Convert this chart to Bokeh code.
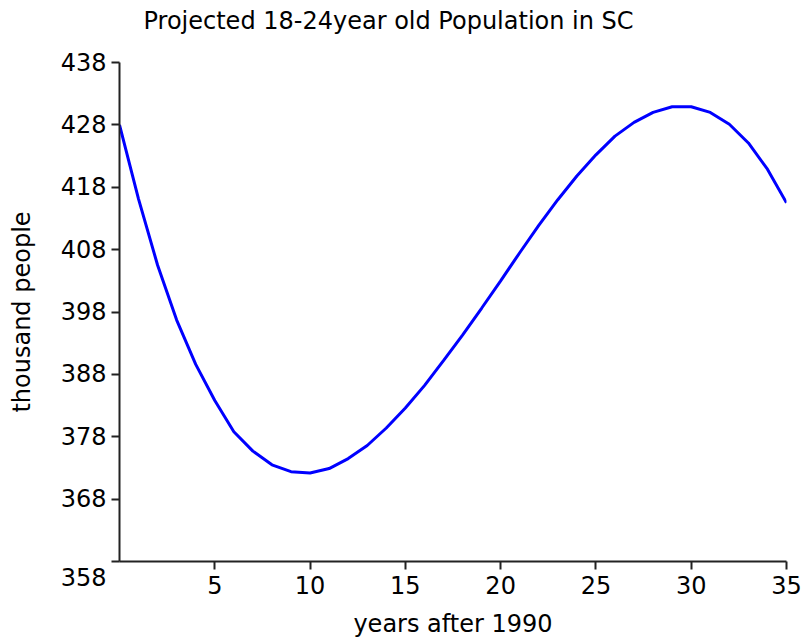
from bokeh.plotting import figure
from bokeh.embed import file_html
from bokeh.resources import INLINE
from bokeh.models import Range1d, FixedTicker

# ---- data ----
years = list(range(0, 36))
population = [428.0, 416.1, 405.5, 396.7, 389.6, 383.8, 378.8, 375.7, 373.5, 372.4,
              372.2, 372.9, 374.5, 376.6, 379.4, 382.6, 386.2, 390.2, 394.3, 398.6,
              403.0, 407.5, 411.9, 416.0, 419.8, 423.2, 426.2, 428.4, 430.0, 430.9,
              430.9, 430.0, 428.1, 425.1, 420.9, 415.5]
x_ticks = [5, 10, 15, 20, 25, 30, 35]
y_ticks = [358, 368, 378, 388, 398, 408, 418, 428, 438]
title_text = "Projected 18-24year old Population in SC"
x_label = "years after 1990"
y_label = "thousand people"

FONT = "DejaVu Sans"

p = figure(width=804, height=642, output_backend="svg", toolbar_location=None,
           x_range=Range1d(0, 35), y_range=Range1d(358, 438),
           min_border_left=119, min_border_right=18,
           min_border_top=62, min_border_bottom=81)

# second (blank) line lifts the single visible title line toward the top edge
p.title.text = title_text + "\n "
p.title.text_font = FONT
p.title.text_font_size = "24px"
p.title.text_font_style = "normal"
p.title.text_color = "black"
p.title.align = "left"
p.title.offset = 24
p.title.standoff = 0

p.outline_line_color = None
p.xgrid.grid_line_color = None
p.ygrid.grid_line_color = None
p.background_fill_color = "white"
p.border_fill_color = "white"

for ax in (p.xaxis[0], p.yaxis[0]):
    ax.axis_line_color = "#222222"
    ax.axis_line_width = 2
    ax.major_tick_line_color = "#222222"
    ax.major_tick_line_width = 2
    ax.major_tick_in = 0
    ax.major_tick_out = 8
    ax.minor_tick_line_color = None
    ax.major_label_text_font = FONT
    ax.major_label_text_font_size = "24px"
    ax.major_label_text_color = "black"
    ax.axis_label_text_font = FONT
    ax.axis_label_text_font_size = "24px"
    ax.axis_label_text_font_style = "normal"
    ax.axis_label_text_color = "black"

p.xaxis.ticker = FixedTicker(ticks=x_ticks)
p.yaxis.ticker = FixedTicker(ticks=y_ticks)
p.xaxis.axis_label = x_label
p.yaxis.axis_label = y_label
p.xaxis.major_label_standoff = 6
p.xaxis.axis_label_standoff = 13
p.yaxis.major_label_standoff = 5
p.yaxis.axis_label_standoff = 22
p.yaxis.major_label_overrides = {y_ticks[0]: "\n" + str(y_ticks[0])}

p.line(years, population, line_color="#0000ff", line_width=3)

open("out.html", "w").write(file_html(p, INLINE))
